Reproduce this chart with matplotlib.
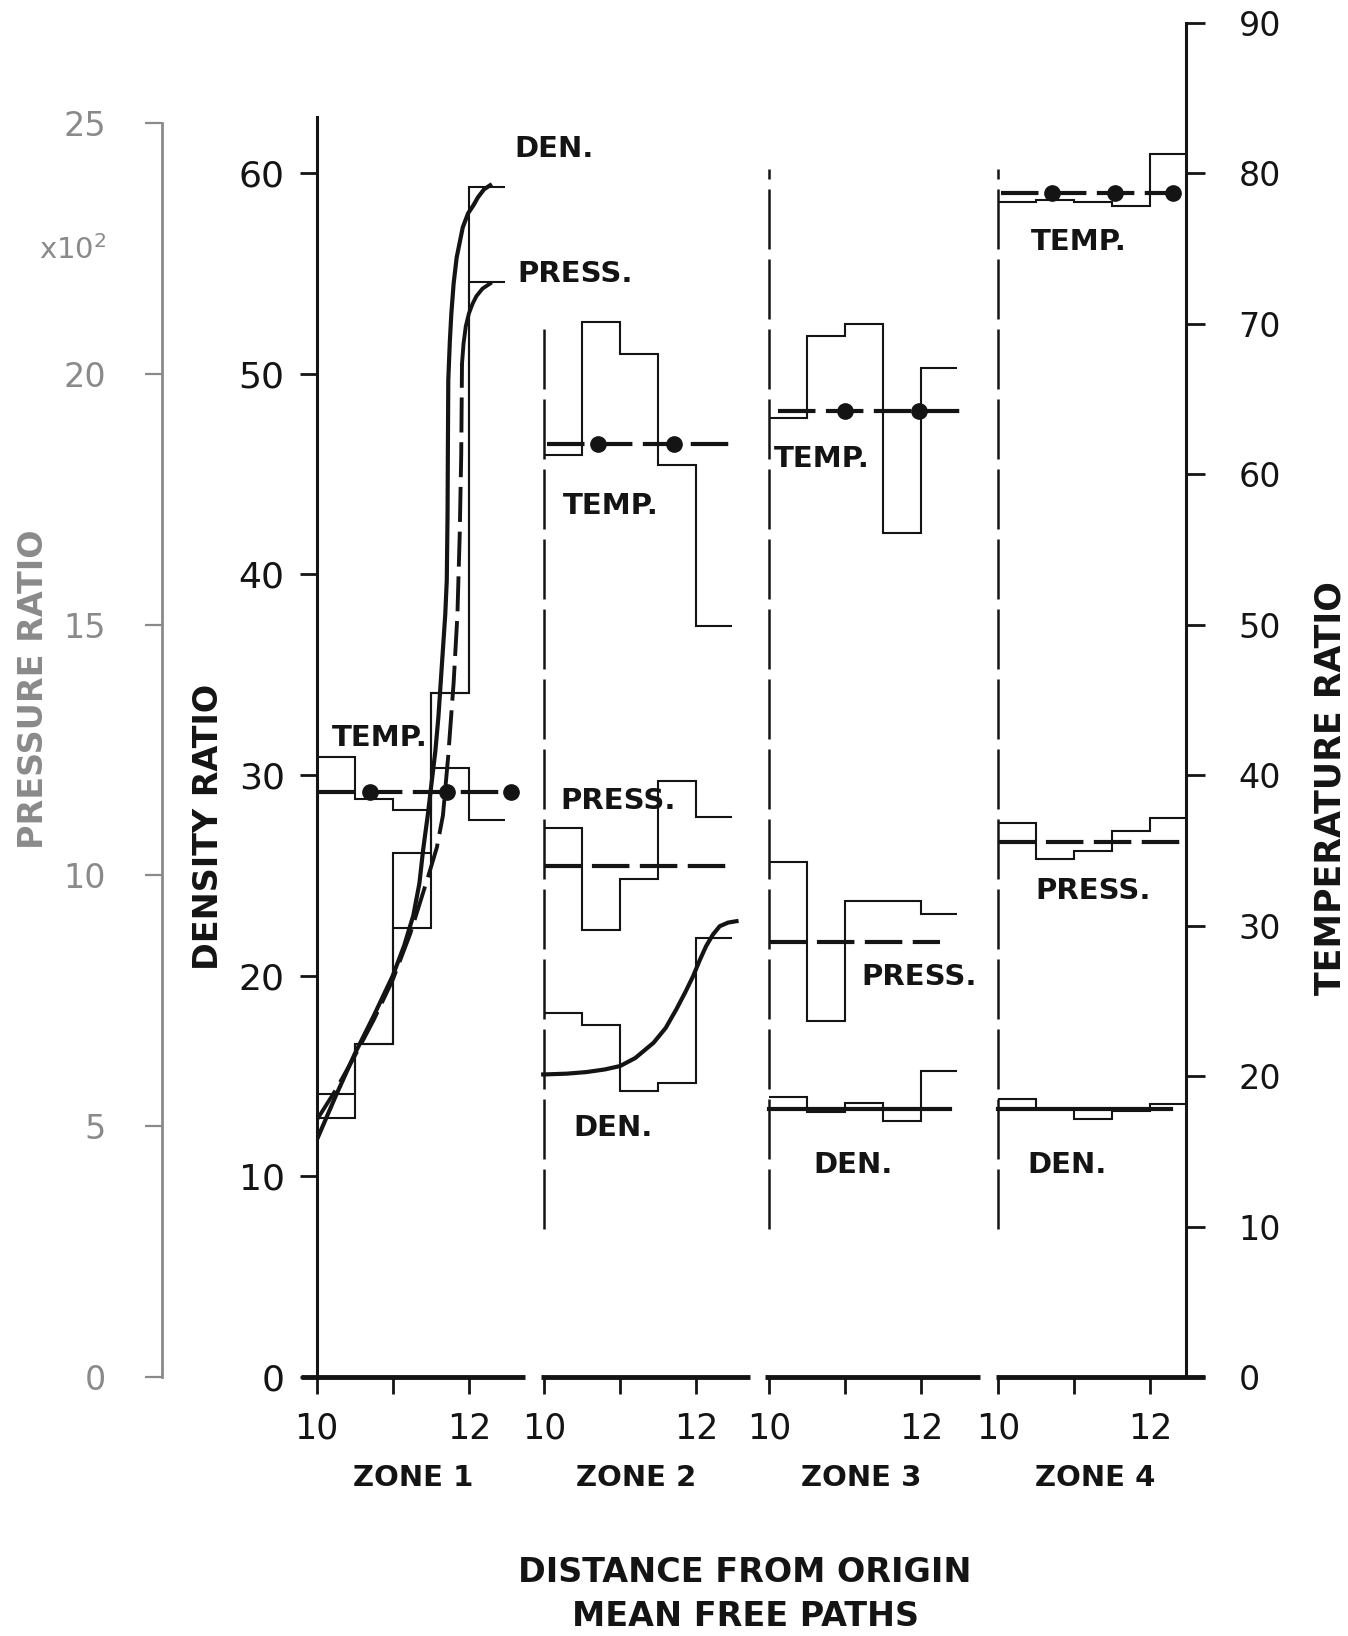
import matplotlib.pyplot as plt

INK = '#141414'
GRAY = '#8a8a8a'

# where each zone's "10" mark sits on the shared x axis
ZONE_OFF = [0.0, 2.987, 5.947, 8.957]
EDGES = [10.0, 10.5, 11.0, 11.5, 12.0, 12.47]

# ---- zone 1 ----
den1 = [12.9, 16.6, 22.4, 34.1, 59.3]
press1 = [5.64, 6.64, 10.44, 13.64, 21.84]
temp1 = [41.2, 38.4, 37.7, 40.5, 37.0]
den1_x = [10.0, 10.25, 10.5, 10.75, 11.0, 11.15, 11.27, 11.35, 11.40, 11.46, 11.51, 11.56,
          11.60, 11.63, 11.66, 11.69, 11.71, 11.72, 11.725, 11.73, 11.75, 11.77, 11.80,
          11.84, 11.92, 11.99, 12.06, 12.12, 12.2, 12.28]
den1_y = [11.8, 14.0, 16.1, 18.0, 20.0, 21.5, 23.0, 24.6, 26.3, 28.0, 29.6, 31.2,
          32.9, 34.6, 36.3, 38.0, 39.7, 43.0, 46.5, 49.7, 51.6, 53.0, 54.5,
          55.8, 57.3, 58.0, 58.4, 58.8, 59.2, 59.4]
press1_x = [10.0, 10.25, 10.5, 10.75, 11.0, 11.23, 11.47, 11.58, 11.66, 11.73, 11.8,
            11.85, 11.88, 11.9, 11.91]
press1_y = [5.12, 5.72, 6.4, 7.12, 7.92, 8.84, 10.0, 10.56, 11.2, 12.4, 13.84,
            15.2, 16.8, 18.4, 20.2]
press1_top_x = [11.91, 11.93, 11.96, 12.0, 12.05, 12.1, 12.18, 12.28]
press1_top_y = [20.2, 20.6, 20.95, 21.2, 21.4, 21.55, 21.7, 21.8]
temp1_avg = 38.9
temp1_span = [10.0, 12.6]
temp1_dots = [10.7, 11.71, 12.55]

# ---- zone 2 ----
den2 = [18.16, 17.53, 14.26, 14.67, 21.89]
press2 = [10.95, 8.92, 9.93, 11.89, 11.16]
temp2 = [61.3, 70.1, 68.0, 60.6, 49.9]
den2_x = [9.99, 10.3, 10.56, 10.8, 11.0, 11.2, 11.44, 11.6, 11.74, 11.86, 11.96,
          12.05, 12.13, 12.22, 12.31, 12.42, 12.53]
den2_y = [15.08, 15.12, 15.2, 15.33, 15.5, 15.9, 16.66, 17.4, 18.33, 19.2, 19.98,
          20.8, 21.47, 22.05, 22.47, 22.65, 22.72]
press2_avg = 10.18
press2_span = [10.0, 12.47]
temp2_avg = 62.0
temp2_span = [10.04, 12.46]
temp2_dots = [10.71, 11.71]

# ---- zone 3 ----
den3 = [13.96, 13.21, 13.64, 12.76, 15.25]
press3 = [10.27, 7.1, 9.5, 9.5, 9.23]
temp3 = [63.7, 69.2, 70.0, 56.1, 67.05]
den3_avg = 13.34
den3_span = [10.0, 12.37]
press3_avg = 8.68
press3_span = [10.0, 12.24]
temp3_avg = 64.2
temp3_span = [10.12, 12.63]
temp3_dots = [10.99, 11.97]

# ---- zone 4 ----
den4 = [13.87, 13.34, 12.87, 13.26, 13.59]
press4 = [11.05, 10.32, 10.48, 10.88, 11.15]
temp4 = [78.08, 78.2, 78.1, 77.8, 81.3]
den4_avg = 13.34
den4_span = [10.0, 12.27]
press4_avg = 10.66
press4_span = [10.0, 12.39]
temp4_avg = 78.7
temp4_span = [10.04, 12.39]
temp4_dots = [10.71, 11.54, 12.30]

ZONE_NAMES = ['ZONE 1', 'ZONE 2', 'ZONE 3', 'ZONE 4']
AXIS_SEG = [(9.8, 12.74), (9.96, 12.71), (9.94, 12.77), (9.97, 12.72)]
SEP_TOP = [52.4, 60.2, 60.2]
SEP_BOTTOM = 7.4


def gx(k, xs):
    return [ZONE_OFF[k] + x - 10 for x in xs]


fig = plt.figure(figsize=(13.48, 16.36), dpi=100)
ax = fig.add_axes([0.2349, 0.1583, 0.6447, 0.8278])
axT = ax.twinx()
axP = ax.twinx()
ax.set_xlim(0, 11.42)
ax.set_ylim(0, 67.5)
axT.set_ylim(0, 90)
axP.set_ylim(0, 27)

# spines
for s in ['top', 'right', 'bottom']:
    ax.spines[s].set_visible(False)
ax.spines['left'].set_bounds(0, 62.8)
ax.spines['left'].set_linewidth(2.2)
ax.spines['left'].set_color(INK)
for s in ['top', 'left', 'bottom']:
    axT.spines[s].set_visible(False)
axT.spines['right'].set_bounds(0, 90)
axT.spines['right'].set_linewidth(2.2)
axT.spines['right'].set_color(INK)
for s in ['top', 'right', 'bottom']:
    axP.spines[s].set_visible(False)
axP.spines['left'].set_visible(True)
axP.spines['left'].set_position(('axes', -0.1784))
axP.spines['left'].set_bounds(0, 25)
axP.spines['left'].set_linewidth(2.0)
axP.spines['left'].set_color(GRAY)
axP.yaxis.set_ticks_position('left')

ax.set_yticks(range(0, 61, 10))
ax.tick_params(axis='y', direction='out', length=12, width=2, pad=11, labelsize=26, colors=INK)
axT.set_yticks(range(0, 91, 10))
axT.tick_params(axis='y', direction='out', length=14, width=2, pad=24, labelsize=24, colors=INK)
axP.set_yticks(range(0, 26, 5))
axP.tick_params(axis='y', direction='out', length=12, width=1.6, pad=28, labelsize=24, colors=GRAY)

xt, xl = [], []
for k in range(4):
    xt += gx(k, [10, 11, 12])
    xl += ['10', '', '12']
ax.set_xticks(xt)
ax.set_xticklabels(xl)
ax.tick_params(axis='x', direction='out', length=12, width=2, pad=13, labelsize=25, colors=INK)

# broken x axis
for k, (a, b) in enumerate(AXIS_SEG):
    ax.plot(gx(k, [a, b]), [0, 0], color=INK, lw=3.5, clip_on=False, solid_capstyle='butt')

# zone separators
for k in range(1, 4):
    ax.plot(gx(k, [10, 10]), [SEP_BOTTOM, SEP_TOP[k - 1]], color=INK, lw=1.8,
            ls=(0, (24, 4)))

step_kw = dict(baseline=None, color=INK, lw=1.5)
dens = [den1, den2, den3, den4]
presses = [press1, press2, press3, press4]
temps = [temp1, temp2, temp3, temp4]
for k in range(4):
    ax.stairs(dens[k], gx(k, EDGES), **step_kw)
    axP.stairs(presses[k], gx(k, EDGES), **step_kw)
    axT.stairs(temps[k], gx(k, EDGES), **step_kw)

# zone 1 curves
ax.plot(gx(0, den1_x), den1_y, color=INK, lw=3, solid_joinstyle='round')
axP.plot(gx(0, press1_x), press1_y, color=INK, lw=2.8, ls=(0, (9, 2.5)))
axP.plot(gx(0, press1_top_x), press1_top_y, color=INK, lw=2.8, solid_joinstyle='round')
# zone 2 density curve
ax.plot(gx(1, den2_x), den2_y, color=INK, lw=3, solid_joinstyle='round')

# averages
dash = (0, (9, 2.5))
for k, v, span, dots in [(0, temp1_avg, temp1_span, temp1_dots),
                         (1, temp2_avg, temp2_span, temp2_dots),
                         (2, temp3_avg, temp3_span, temp3_dots),
                         (3, temp4_avg, temp4_span, temp4_dots)]:
    axT.plot(gx(k, span), [v, v], color=INK, lw=3, ls=dash)
    axT.plot(gx(k, dots), [v] * len(dots), 'o', color=INK, ms=11)
for k, v, span in [(1, press2_avg, press2_span), (2, press3_avg, press3_span),
                   (3, press4_avg, press4_span)]:
    axP.plot(gx(k, span), [v, v], color=INK, lw=3, ls=dash)
for k, v, span in [(2, den3_avg, den3_span), (3, den4_avg, den4_span)]:
    ax.plot(gx(k, span), [v, v], color=INK, lw=3)

# curve labels (x global, y in density units)
lab = dict(fontsize=21, fontweight='bold', color=INK, ha='left', va='center')
ax.text(2.60, 61.2, 'DEN.', **lab)
ax.text(2.64, 54.97, 'PRESS.', **lab)
ax.text(0.20, 31.84, 'TEMP.', **lab)
ax.text(3.24, 43.4, 'TEMP.', **lab)
ax.text(3.20, 28.72, 'PRESS.', **lab)
ax.text(3.38, 12.4, 'DEN.', **lab)
ax.text(6.01, 45.77, 'TEMP.', **lab)
ax.text(7.16, 19.94, 'PRESS.', **lab)
ax.text(6.53, 10.58, 'DEN.', **lab)
ax.text(9.385, 56.58, 'TEMP.', **lab)
ax.text(9.45, 24.2, 'PRESS.', **lab)
ax.text(9.34, 10.58, 'DEN.', **lab)

# zone names under the axis
zone_cx = [413, 636, 861, 1095]
for name, cx in zip(ZONE_NAMES, zone_cx):
    fig.text(cx / 1348, 1 - 1478 / 1636, name, fontsize=21, fontweight='bold',
             ha='center', va='center', color=INK)

fig.text(745 / 1348, 1 - 1573 / 1636, 'DISTANCE FROM ORIGIN', fontsize=24,
         fontweight='bold', ha='center', va='center', color=INK)
fig.text(745 / 1348, 1 - 1617 / 1636, 'MEAN FREE PATHS', fontsize=24,
         fontweight='bold', ha='center', va='center', color=INK)

fig.text(0.0248, 0.579, 'PRESSURE RATIO', rotation=90, fontsize=24, fontweight='bold',
         ha='center', va='center', color=GRAY)
fig.text(0.1548, 0.4943, 'DENSITY RATIO', rotation=90, fontsize=24, fontweight='bold',
         ha='center', va='center', color=INK)
fig.text(0.9867, 0.5185, 'TEMPERATURE RATIO', rotation=90, fontsize=25, fontweight='bold',
         ha='center', va='center', color=INK)
fig.text(0.054, 0.847, r'x10$^2$', fontsize=21, ha='center', va='center', color=GRAY)

fig.savefig('out.png', dpi=100, facecolor='white')
